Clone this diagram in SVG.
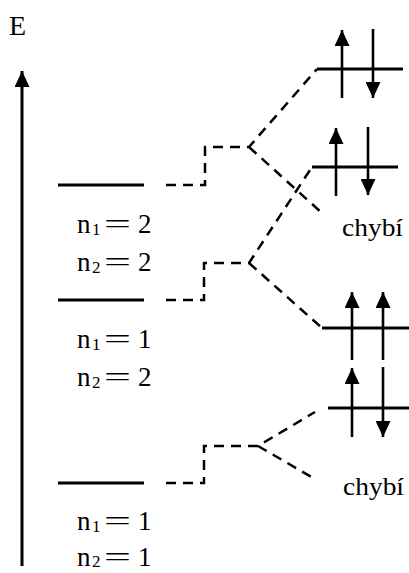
<svg xmlns="http://www.w3.org/2000/svg" width="409" height="573" viewBox="0 0 409 573">
<defs>
<marker id="ah" viewBox="0 0 16 15" markerWidth="16" markerHeight="15" refX="16" refY="7.5" orient="auto" markerUnits="userSpaceOnUse"><path d="M0,0 L16,7.5 L0,15 z" fill="#000"/></marker>
</defs>
<style>
.lvl{stroke:#000;stroke-width:3;fill:none}
.arr{stroke:#000;stroke-width:2.6;fill:none;marker-end:url(#ah)}
.dash{stroke:#000;stroke-width:2.5;fill:none;stroke-dasharray:10 7}
.t{font-family:"Liberation Serif","Times New Roman",serif;font-size:27px;fill:#000}
.s{font-size:17px}
</style>
<rect width="409" height="573" fill="#fff"/>
<g id="axis">
<line x1="22" y1="566" x2="22" y2="71" class="arr" style="stroke-width:3"/>
<text class="t" x="9" y="35" style="font-size:28px">E</text>
</g>
<g id="level-1">
<line class="lvl" x1="58" y1="185" x2="144" y2="185"/>
<text class="t" x="77" y="233">n</text><text class="t s" x="92" y="235">1</text>
<text class="t" x="104" y="233" textLength="27" lengthAdjust="spacingAndGlyphs">=</text>
<text class="t" x="138" y="233">2</text>
<text class="t" x="77" y="271">n</text><text class="t s" x="92" y="273">2</text>
<text class="t" x="104" y="271" textLength="27" lengthAdjust="spacingAndGlyphs">=</text>
<text class="t" x="138" y="271">2</text>
</g>
<g id="level-2">
<line class="lvl" x1="58" y1="300" x2="144" y2="300"/>
<text class="t" x="77" y="348">n</text><text class="t s" x="92" y="350">1</text>
<text class="t" x="104" y="348" textLength="27" lengthAdjust="spacingAndGlyphs">=</text>
<text class="t" x="138" y="348">1</text>
<text class="t" x="77" y="386">n</text><text class="t s" x="92" y="388">2</text>
<text class="t" x="104" y="386" textLength="27" lengthAdjust="spacingAndGlyphs">=</text>
<text class="t" x="138" y="386">2</text>
</g>
<g id="level-3">
<line class="lvl" x1="58" y1="483" x2="144" y2="483"/>
<text class="t" x="77" y="530">n</text><text class="t s" x="92" y="532">1</text>
<text class="t" x="104" y="530" textLength="27" lengthAdjust="spacingAndGlyphs">=</text>
<text class="t" x="138" y="530">1</text>
<text class="t" x="77" y="566">n</text><text class="t s" x="92" y="567">2</text>
<text class="t" x="104" y="566" textLength="27" lengthAdjust="spacingAndGlyphs">=</text>
<text class="t" x="138" y="566">1</text>
</g>
<g id="orbital-a">
<line class="lvl" x1="317" y1="69" x2="403" y2="69"/>
<line class="arr" x1="342" y1="98" x2="342" y2="30"/>
<line class="arr" x1="373" y1="29" x2="373" y2="98"/>
</g>
<g id="orbital-b">
<line class="lvl" x1="312" y1="167" x2="398" y2="167"/>
<line class="arr" x1="336" y1="196" x2="336" y2="128"/>
<line class="arr" x1="368" y1="127" x2="368" y2="195"/>
</g>
<g id="missing-1">
<text class="t" x="342" y="236" style="font-size:26px" textLength="61" lengthAdjust="spacingAndGlyphs">chybí</text>
</g>
<g id="orbital-c">
<line class="lvl" x1="322" y1="328" x2="409" y2="328"/>
<line class="arr" x1="352" y1="360" x2="352" y2="292"/>
<line class="arr" x1="383" y1="360" x2="383" y2="292"/>
</g>
<g id="orbital-d">
<line class="lvl" x1="328" y1="408" x2="409" y2="408"/>
<line class="arr" x1="352" y1="437" x2="352" y2="368"/>
<line class="arr" x1="383" y1="367" x2="383" y2="437"/>
</g>
<g id="missing-2">
<text class="t" x="343" y="495" style="font-size:26px" textLength="61" lengthAdjust="spacingAndGlyphs">chybí</text>
</g>
<g id="connectors">
<path class="dash" d="M166,185 H205 V147 H249 L317,69 M249,147 L322,213"/>
<path class="dash" d="M166,300 H204 V263 H249 L312,167 M249,263 L322,328"/>
<path class="dash" d="M166,483 H204 V446 H258 L315,412 M258,446 L315,479"/>
</g>
</svg>
